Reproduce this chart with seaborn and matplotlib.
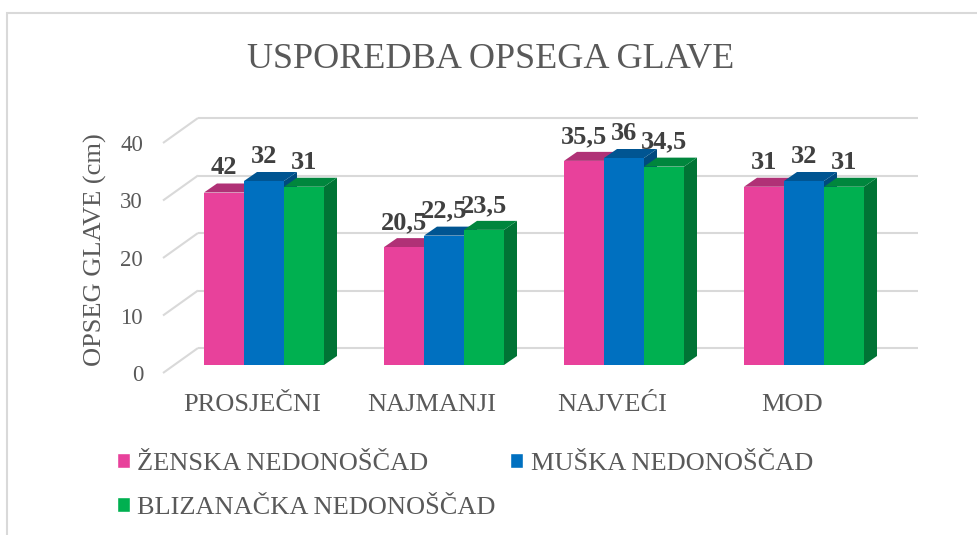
import numpy as np
import pandas as pd
import seaborn as sns
import matplotlib.pyplot as plt
from matplotlib.patches import Polygon, Patch, Rectangle
from matplotlib.transforms import ScaledTranslation
import matplotlib.colors as mcolors

# ---------------- data ----------------
categories = ["PROSJEČNI", "NAJMANJI", "NAJVEĆI", "MOD"]
series_names = ["ŽENSKA NEDONOŠČAD", "MUŠKA NEDONOŠČAD", "BLIZANAČKA NEDONOŠČAD"]
zenska = [30, 20.5, 35.5, 31]
muska = [32, 22.5, 36, 32]
blizanacka = [31, 23.5, 34.5, 31]
zenska_labels = ["42", "20,5", "35,5", "31"]
muska_labels = ["32", "22,5", "36", "32"]
blizanacka_labels = ["31", "23,5", "34,5", "31"]
y_ticks = [0, 10, 20, 30, 40]
title = "USPOREDBA OPSEGA GLAVE"
y_title = "OPSEG GLAVE (cm)"
colors = ["#E8419B", "#0070C0", "#00B050"]

values = [zenska, muska, blizanacka]
labels = [zenska_labels, muska_labels, blizanacka_labels]
rows = []
for s, vals, labs in zip(series_names, values, labels):
    for c, v, l in zip(categories, vals, labs):
        rows.append({"cat": c, "series": s, "val": v, "lab": l})
df = pd.DataFrame(rows)

# ---------------- style ----------------
sns.set_theme(style="white")
plt.rcParams["font.family"] = ["Liberation Serif", "DejaVu Serif"]
TXT = "#595959"

W, H = 978, 535
DPI = 100
fig = plt.figure(figsize=(W / DPI, H / DPI), dpi=DPI)
fig.patch.set_facecolor("white")

# axes = plane of the bars' front faces
ax_l, ax_r, ax_b, ax_t = 174, 894, 365, 135
ax = fig.add_axes([ax_l / W, (H - ax_b) / H, (ax_r - ax_l) / W, (ax_b - ax_t) / H])
ax.set_facecolor("none")

sns.barplot(data=df, x="cat", y="val", hue="series", order=categories,
            hue_order=series_names, palette=colors, width=2 / 3,
            saturation=1, errorbar=None, legend=False, linewidth=0, ax=ax)
ax.set_xlim(-0.5, 3.5)
ax.set_ylim(0, 40)
for sp in ax.spines.values():
    sp.set_visible(False)
ax.set_xlabel("")
ax.set_ylabel("")

# pixel -> data scale
p0 = ax.transData.transform((0, 0))
p1 = ax.transData.transform((1, 1))
sx = (p1[0] - p0[0]) / (fig.dpi / DPI)
sy = (p1[1] - p0[1]) / (fig.dpi / DPI)

# depth offsets in pixels
bar_dx, bar_dy = 13, 9        # depth of bars
front_dx, front_dy = -11, -8  # front plane relative to bar faces
back_dx, back_dy = 24, 17     # back wall relative to bar faces

# gridlines on back wall + slanted side segments
xl, xr = ax.get_xlim()
grid_c = "#D9D9D9"
for v in y_ticks:
    ax.plot([xl + front_dx / sx, xl + back_dx / sx],
            [v + front_dy / sy, v + back_dy / sy],
            color=grid_c, lw=1.5, clip_on=False, zorder=0.5, solid_capstyle="butt")
    ax.plot([xl + back_dx / sx, xr + back_dx / sx],
            [v + back_dy / sy, v + back_dy / sy],
            color=grid_c, lw=1.5, clip_on=False, zorder=0.5, solid_capstyle="butt")

# 3D faces for bars
def shade(c, f):
    r, g, b = mcolors.to_rgb(c)
    return (r * f, g * f, b * f)

bars = [p for p in ax.patches if p.get_height() > 0]
bars.sort(key=lambda p: p.get_x())
ddx, ddy = bar_dx / sx, bar_dy / sy
for k, p in enumerate(bars):
    x0, w, h = p.get_x(), p.get_width(), p.get_height()
    fc = p.get_facecolor()
    z = 3 + 3 * k
    side = Polygon([(x0 + w, 0), (x0 + w + ddx, ddy), (x0 + w + ddx, h + ddy), (x0 + w, h)],
                   closed=True, facecolor=shade(fc, 0.66), edgecolor="none", zorder=z,
                   clip_on=False)
    top = Polygon([(x0, h), (x0 + w, h), (x0 + w + ddx, h + ddy), (x0 + ddx, h + ddy)],
                  closed=True, facecolor=shade(fc, 0.76), edgecolor="none", zorder=z + 1,
                  clip_on=False)
    ax.add_patch(side)
    ax.add_patch(top)
    p.set_zorder(z + 2)
    p.set_clip_on(False)

# data labels (seaborn containers: one per series, in category order)
for cont, labs in zip(ax.containers, labels):
    for p, lab in zip(cont, labs):
        cx = p.get_x() + p.get_width() / 2
        ax.annotate(lab, (cx, p.get_height()), xytext=(0, 18 * 0.72),
                    textcoords="offset points", ha="center", va="baseline",
                    fontsize=19, fontweight="bold", color="#404040",
                    zorder=100, annotation_clip=False)

# ticks
ax.set_yticks(y_ticks)
ax.set_yticklabels([str(t) for t in y_ticks])
ax.tick_params(axis="y", length=0, pad=22.3, labelsize=16.5, labelcolor=TXT)
ax.tick_params(axis="x", length=0, pad=21, labelsize=19, labelcolor=TXT)
offy = ScaledTranslation(0, -8 / DPI, fig.dpi_scale_trans)
for lab in ax.get_yticklabels():
    lab.set_transform(lab.get_transform() + offy)
offx = ScaledTranslation(-12 / DPI, 0, fig.dpi_scale_trans)
for lab in ax.get_xticklabels():
    lab.set_transform(lab.get_transform() + offx)

# titles
fig.text(491 / W, 1 - 68 / H, title, ha="center", va="baseline", fontsize=26, color=TXT)
fig.text(95 / W, 1 - 250 / H, y_title, ha="center", va="center", rotation=90,
         fontsize=19, color=TXT)

# legend (order so rows read Ž, M / B)
handles = [Patch(facecolor=colors[0], label=series_names[0]),
           Patch(facecolor=colors[2], label=series_names[2]),
           Patch(facecolor=colors[1], label=series_names[1])]
fig.legend(handles=handles, loc="upper left", bbox_to_anchor=(117 / W, 1 - 453 / H),
           ncol=2, frameon=False, fontsize=19, handlelength=0.5, handleheight=0.5,
           handletextpad=0.27, columnspacing=0.55, labelspacing=0.82,
           borderpad=0, borderaxespad=0, labelcolor=TXT)

# chart border
fig.add_artist(Rectangle((7 / W, -0.05), 1.2, (1 - 13 / H) + 0.05,
                         transform=fig.transFigure, fill=False,
                         edgecolor="#D9D9D9", lw=1.5))

fig.savefig("out.png", dpi=DPI)
